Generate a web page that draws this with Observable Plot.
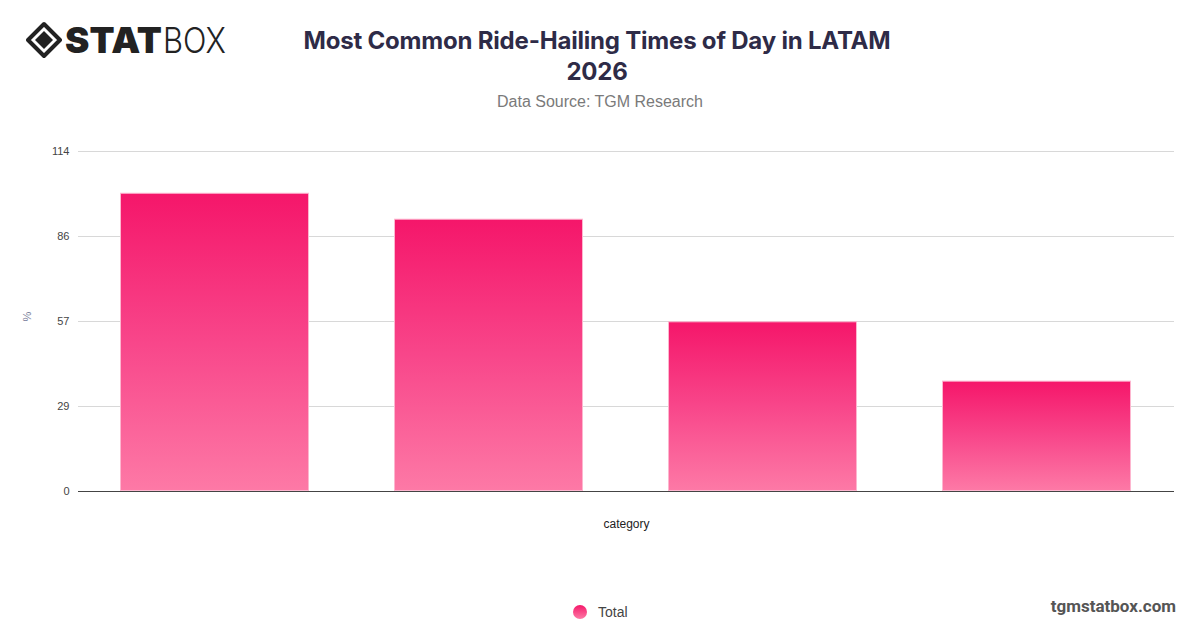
<!DOCTYPE html>
<html>
<head>
<meta charset="utf-8">
<script src="https://cdn.jsdelivr.net/npm/d3@7"></script>
<script src="https://cdn.jsdelivr.net/npm/@observablehq/plot@0.6"></script>
<style>
  html, body { margin: 0; padding: 0; background: #fff; }
  body { width: 1200px; height: 628px; position: relative; overflow: hidden; font-family: Inter, "Noto Sans", sans-serif; }
  #logo { position: absolute; left: 26px; top: 8px; }
  #title { position: absolute; left: 0; width: 1194px; top: 25px; text-align: center; font-size: 24px; font-weight: 700; color: #2e2b47; line-height: 31px; letter-spacing: -0.2px; }
  #subtitle { position: absolute; left: 0; width: 1200px; top: 93px; text-align: center; font-size: 16px; color: #7a7a7a; font-family: "Helvetica Neue", "Liberation Sans", Arial, sans-serif; }
  #chart { position: absolute; left: 0; top: 130px; }
  #legend { position: absolute; left: 573px; top: 604px; display: flex; align-items: center; font-size: 14px; color: #444; font-family: "Liberation Sans", Arial, sans-serif; }
  #legend .dot { width: 14px; height: 14px; border-radius: 50%; background: linear-gradient(#f5186a, #fd7aa6); margin-right: 11px; }
  #footer { position: absolute; right: 24px; top: 596px; font-size: 17px; font-weight: 700; color: #555; font-family: Roboto, "Liberation Sans", Arial, sans-serif; }
</style>
</head>
<body>
<div id="logo">
  <svg width="230" height="66" viewBox="0 0 230 66">
    <path d="M18 16 L34 32 L18 48 L2 32 Z" fill="none" stroke="#222" stroke-width="4" stroke-linejoin="round"/>
    <path d="M18 23 L27 32 L18 41 L9 32 Z" fill="#222"/>
    <text x="39" y="45" font-family="Inter, 'DejaVu Sans'" font-weight="900" font-size="36" fill="#222" textLength="97" lengthAdjust="spacingAndGlyphs">STAT</text>
    <text x="137" y="45" font-family="Inter, 'DejaVu Sans'" font-weight="300" font-size="36" fill="#222" textLength="63" lengthAdjust="spacingAndGlyphs">BOX</text>
  </svg>
</div>
<div id="title">Most Common Ride-Hailing Times of Day in LATAM<br>2026</div>
<div id="subtitle">Data Source: TGM Research</div>
<div id="chart"></div>
<div id="legend"><div class="dot"></div><span>Total</span></div>
<div id="footer">tgmstatbox.com</div>
<script>
const categories = ["Morning", "Afternoon", "Evening", "Night"];
const totals = [100, 91.3, 56.9, 37];
const yTicks = [0, 28.5, 57, 85.5, 114];
const yTickLabels = ["0", "29", "57", "86", "114"];
const seriesName = "Total";

const data = categories.map((c, i) => ({category: c, value: totals[i]}));

const chart = Plot.plot({
  width: 1200,
  height: 420,
  marginLeft: 78,
  marginRight: 26,
  marginTop: 21,
  marginBottom: 59,
  style: { fontFamily: "'Helvetica Neue', 'Liberation Sans', Arial, sans-serif", fontSize: "11px", color: "#555" },
  x: { domain: categories, paddingInner: 0.31, paddingOuter: 0.155, axis: null },
  y: { domain: [0, 114], axis: null },
  marks: [
    () => {
      const svgNS = "http://www.w3.org/2000/svg";
      const defs = document.createElementNS(svgNS, "defs");
      defs.innerHTML = `<linearGradient id="barGrad" x1="0" y1="0" x2="0" y2="1">
        <stop offset="0%" stop-color="#f5166a"/>
        <stop offset="50%" stop-color="#f8468a"/>
        <stop offset="100%" stop-color="#fd79a6"/>
      </linearGradient>`;
      return defs;
    },
    Plot.gridY(yTicks, { stroke: "#d8d8d8", strokeOpacity: 1, strokeWidth: 1 }),
    Plot.axisY(yTicks, { tickSize: 0, tickPadding: 9, tickFormat: (d) => yTickLabels[yTicks.indexOf(d)], label: null, fill: "#444", fontSize: 11 }),
    Plot.barY(data, { x: "category", y: "value", fill: "url(#barGrad)", stroke: "#fdb6cf", strokeWidth: 1, inset: 0.5 }),
    Plot.ruleY([0], { stroke: "#444", strokeWidth: 1.2 }),
    Plot.text(["category"], { frameAnchor: "bottom", dy: 36, text: d => d, fontSize: 12, fill: "#222" }),
    Plot.text(["%"], { frameAnchor: "left", dx: -51, rotate: -90, text: d => d, fontSize: 11, fill: "#777c99" })
  ]
});
document.getElementById("chart").appendChild(chart);
document.querySelector("#legend span").textContent = seriesName;
</script>
</body>
</html>
